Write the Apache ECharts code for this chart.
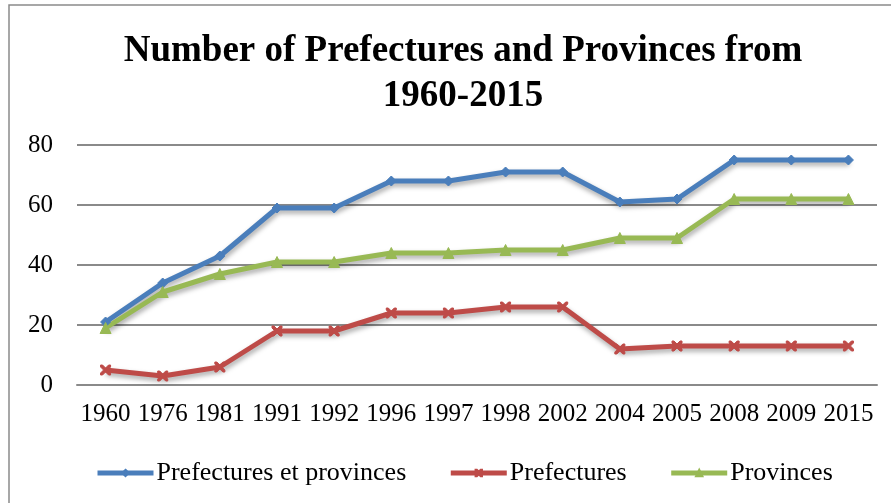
<!DOCTYPE html>
<html>
<head>
<meta charset="utf-8">
<script src="https://cdn.jsdelivr.net/npm/echarts@6/dist/echarts.min.js"></script>
<style>
  html, body { margin: 0; padding: 0; background: #fff; }
  #chart { width: 891px; height: 503px; }
</style>
</head>
<body>
<div id="chart"></div>
<script>
// data
const years = ['1960', '1976', '1981', '1991', '1992', '1996', '1997', '1998', '2002', '2004', '2005', '2008', '2009', '2015']
const totalValues = [21, 34, 43, 59, 59, 68, 68, 71, 71, 61, 62, 75, 75, 75]
const prefectureValues = [5, 3, 6, 18, 18, 24, 24, 26, 26, 12, 13, 13, 13, 13]
const provinceValues = [19, 31, 37, 41, 41, 44, 44, 45, 45, 49, 49, 62, 62, 62]
const yTicks = [0, 20, 40, 60, 80]

const serif = '"Liberation Serif", "Times New Roman", serif'
const shadow = { shadowColor: 'rgba(0,0,0,0.35)', shadowBlur: 5, shadowOffsetX: 1, shadowOffsetY: 3 }

const chart = echarts.init(document.getElementById('chart'), null, { renderer: 'canvas' })

const mkSeries = (name, data, color, symbol, size) => ({
  name, type: 'line', data,
  symbol, symbolSize: size,
  lineStyle: { color, width: 5, ...shadow },
  itemStyle: { color, borderColor: color, borderWidth: 1 },
  emphasis: { disabled: true },
  animation: false,
})

chart.setOption({
  backgroundColor: '#fff',
  title: {
    text: 'Number of Prefectures and Provinces from\n1960-2015',
    left: 458, top: 24, textAlign: 'center',
    textStyle: { fontFamily: serif, fontWeight: 'bold', fontSize: 37, lineHeight: 45, color: '#000' },
  },
  legend: {
    left: 90, top: 455,
    itemWidth: 56, itemHeight: 8, itemGap: 42,
    lineStyle: { width: 5, shadowBlur: 0, shadowOffsetX: 0, shadowOffsetY: 0 },
    textStyle: { fontFamily: serif, fontSize: 26, color: '#000', padding: [0, 0, 0, -2] },
    data: ['Prefectures et provinces', 'Prefectures', 'Provinces'],
  },
  grid: { left: 77, right: 14, top: 145, bottom: 118, containLabel: false },
  xAxis: {
    type: 'category', data: years, boundaryGap: true,
    axisLine: { show: true, lineStyle: { color: '#8a8a8a', width: 2 } },
    axisTick: { show: false },
    axisLabel: { interval: 0, margin: 17, fontFamily: serif, fontSize: 25, color: '#000' },
  },
  yAxis: {
    type: 'value', min: yTicks[0], max: yTicks[yTicks.length - 1], interval: 20,
    axisLine: { show: false }, axisTick: { show: false },
    splitLine: { lineStyle: { color: '#8a8a8a', width: 2 } },
    axisLabel: { margin: 24, fontFamily: serif, fontSize: 25, color: '#000' },
  },
  graphic: [{
    type: 'rect', silent: true,
    shape: { x: 9, y: 5, width: 900, height: 520 },
    style: { fill: 'none', stroke: '#8a8a8a', lineWidth: 1.5 },
  }],
  series: [
    mkSeries('Prefectures et provinces', totalValues, '#4a7ebb', 'diamond', 10),
    mkSeries('Prefectures', prefectureValues, '#be4b48',
      'path://M0,0 L2,0 L5,3 L8,0 L10,0 L10,2 L7,5 L10,8 L10,10 L8,10 L5,7 L2,10 L0,10 L0,8 L3,5 L0,2 Z', 10),
    mkSeries('Provinces', provinceValues, '#98b954', 'triangle', 11),
  ],
})
</script>
</body>
</html>
